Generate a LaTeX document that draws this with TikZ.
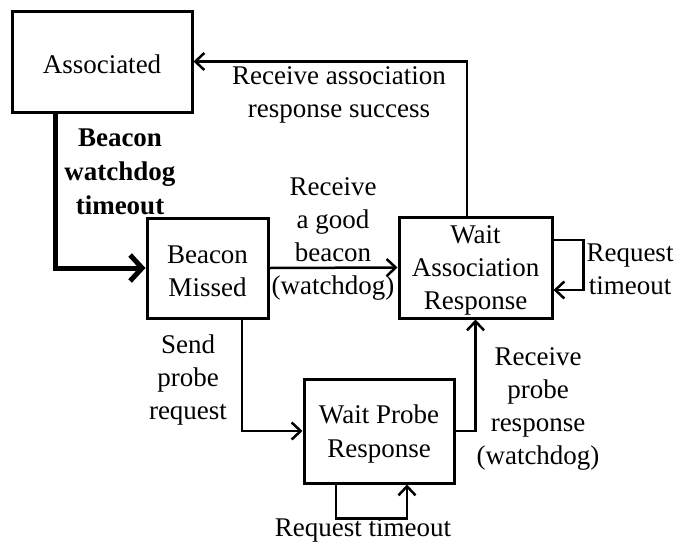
\documentclass[tikz,border=0pt]{standalone}
\usepackage{fontspec}
\setmainfont{Liberation Serif}
\usetikzlibrary{arrows.meta}
\begin{document}
\begin{tikzpicture}[x=1pt,y=-1pt,
  every node/.style={font=\fontsize{27}{33}\selectfont},
  state/.style={draw,line width=3pt,inner sep=0pt,align=center},
  statetext/.style={label={[align=center,inner sep=0pt,yshift=-3pt]center:#1}},
  lab/.style={align=center,inner sep=0pt},
  conn/.style={line width=2.5pt,-{Straight Barb[length=9pt,width=17pt,line width=2.5pt]}},
  thickconn/.style={line width=5pt,-{Straight Barb[length=12pt,width=26pt,line width=5pt]}}]
\useasboundingbox (0,0) rectangle (680,544);
% states
\node[state,minimum width=180pt,minimum height=101pt,statetext={Associated}] (assoc) at (102,61.5) {};
\node[state,minimum width=121pt,minimum height=100pt,statetext={Beacon\\Missed}] (bm) at (207.5,268) {};
\node[state,minimum width=153pt,minimum height=101pt,statetext={Wait\\Association\\Response}] (wa) at (475.5,267.5) {};
\node[state,minimum width=150pt,minimum height=104pt,statetext={Wait Probe\\Response}] (wp) at (379,431) {};
% transitions
\draw[thickconn] ([xshift=-47pt]assoc.south) |- (bm.west);
\draw[conn] ([xshift=-8.5pt]wa.north) |- (assoc.east);
\draw[conn] (bm.east) -- (wa.west);
\draw[conn] ([xshift=34.5pt]bm.south) |- (wp.west);
\draw[conn] (wp.east) -| (wa.south);
\draw[conn] ([yshift=27.5pt]wa.east) -- ++(30,0) |- ([yshift=-22.5pt]wa.east);
\draw[conn] ([xshift=-43pt]wp.south) -- ++(0,34) -| ([xshift=28pt]wp.south);
% transition labels
\node[lab,font=\fontsize{27}{34}\selectfont\bfseries] (l1) at (120,171.5) {Beacon\\watchdog\\timeout};
\node[lab] (l2) at (339,95) {Receive association\\response success};
\node[lab] (l3) at (333,239) {Receive\\a good\\beacon\\(watchdog)};
\node[lab] (l4) at (630,269) {Request\\timeout};
\node[lab] (l5) at (188,380) {Send\\probe\\request};
\node[lab] (l6) at (538,408.5) {Receive\\probe\\response\\(watchdog)};
\node[lab] (l7) at (363,530) {Request timeout};
\end{tikzpicture}
\end{document}
